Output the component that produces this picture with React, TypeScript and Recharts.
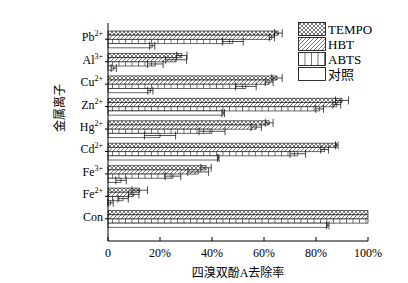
import { BarChart, Bar, XAxis, YAxis, ErrorBar } from "recharts";

const ions = ["Pb", "Al", "Cu", "Zn", "Hg", "Cd", "Fe", "Fe", "Con"];
const charges = ["2+", "3+", "2+", "2+", "2+", "2+", "3+", "2+", ""];

const tempo = [65.5, 28.4, 65, 90, 62, 88, 37.7, 12.2, 100];
const hbt = [63, 26.2, 62, 88, 57, 83.3, 34.7, 9.9, 100];
const abts = [48, 18.2, 53, 81.4, 40, 73, 25, 5.8, 100];
const control = [17, 2.2, 16.3, 44.3, 20, 42.4, 5, 1, 84.5];

const tempoErr = [1.5, 2, 2, 2.5, 1.5, 0.5, 2, 3, 0];
const hbtErr = [1, 4, 1.5, 1.5, 2, 1.5, 4, 2, 0];
const abtsErr = [4, 3, 4, 1.5, 5, 3, 3, 2, 0];
const controlErr = [1, 1, 1, 0.5, 6, 0.3, 2, 1, 0.5];

const xTicks = [0, 20, 40, 60, 80, 100];

const data = ions.map((ion, i) => ({
  name: ion + charges[i],
  tempo: tempo[i],
  hbt: hbt[i],
  abts: abts[i],
  control: control[i],
  tempoErr: tempoErr[i],
  hbtErr: hbtErr[i],
  abtsErr: abtsErr[i],
  controlErr: controlErr[i],
}));

const FONT = '"Liberation Serif", "Times New Roman", "Noto Sans CJK SC", serif';

function Patterns({ prefix }: { prefix: string }) {
  return (
    <defs>
      <pattern id={prefix + "tempo"} patternUnits="userSpaceOnUse" width="4" height="4">
        <rect width="4" height="4" fill="#fff" />
        <path d="M0,0 L4,4 M4,0 L0,4" stroke="#222" strokeWidth="0.6" />
      </pattern>
      <pattern id={prefix + "hbt"} patternUnits="userSpaceOnUse" width="4" height="4">
        <rect width="4" height="4" fill="#fff" />
        <path d="M-1,1 L1,-1 M0,4 L4,0 M3,5 L5,3" stroke="#222" strokeWidth="0.6" />
      </pattern>
      <pattern id={prefix + "abts"} patternUnits="userSpaceOnUse" width="6.5" height="6">
        <rect width="6.5" height="6" fill="#fff" />
        <line x1="0.5" y1="0" x2="0.5" y2="6" stroke="#333" strokeWidth="0.7" />
      </pattern>
    </defs>
  );
}

const YTick = ({ x, y, payload }: any) => {
  const i = payload.index;
  return (
    <text x={x} y={y} dy={2} textAnchor="end" fontSize={12} fontFamily={FONT} fill="#000">
      {ions[i]}
      {charges[i] && (
        <tspan dy={-5} fontSize={8}>
          {charges[i]}
        </tspan>
      )}
    </text>
  );
};

const XTick = ({ x, y, payload }: any) => (
  <g>
    <line x1={x} y1={y} x2={x} y2={y - 4} stroke="#000" strokeWidth={1} />
    <text x={x} y={y + 16} textAnchor="middle" fontSize={12} fontFamily={FONT} fill="#000">
      {payload.value === 0 ? "0" : payload.value + "%"}
    </text>
  </g>
);

const legendItems = [
  { label: "TEMPO", fill: "url(#lgtempo)" },
  { label: "HBT", fill: "url(#lghbt)" },
  { label: "ABTS", fill: "url(#lgabts)" },
  { label: "对照", fill: "#fff" },
];

const LegendBox = () => (
  <svg width={90} height={62} style={{ position: "absolute", left: 290, top: 14 }}>
    <Patterns prefix="lg" />
    {legendItems.map((it, i) => (
      <g key={it.label}>
        <rect x={0.5} y={0.5 + i * 15} width={27} height={13} fill={it.fill} stroke="#000" strokeWidth={0.8} />
        <text x={30} y={12 + i * 15} fontSize={13} fontFamily={FONT} fill="#000">
          {it.label}
        </text>
      </g>
    ))}
  </svg>
);

export default function App() {
  return (
    <div style={{ width: 400, height: 275, position: "relative", fontFamily: FONT }}>
      <BarChart
        width={400}
        height={275}
        data={data}
        layout="vertical"
        barSize={4.2}
        barGap={0}
        margin={{ top: 15, right: 40, bottom: 6, left: 40 }}
      >
        <Patterns prefix="p" />
        <XAxis
          type="number"
          domain={[0, 100]}
          ticks={xTicks}
          tick={<XTick />}
          tickLine={false}
          tickSize={0}
          tickMargin={0}
          axisLine={{ stroke: "#000", strokeWidth: 1 }}
          height={36}
          label={{
            value: "四溴双酚A去除率",
            position: "insideBottom",
            offset: 0,
            fontSize: 12,
            fill: "#000",
            fontFamily: FONT,
          }}
        />
        <YAxis
          type="category"
          dataKey="name"
          width={60}
          tick={<YTick />}
          tickSize={3}
          tickMargin={2}
          tickLine={{ stroke: "#000" }}
          axisLine={{ stroke: "#000", strokeWidth: 1 }}
          padding={{ top: 5, bottom: 11 }}
          interval={0}
          label={{
            value: "金属离子",
            angle: -90,
            position: "insideLeft",
            offset: 12,
            fontSize: 12,
            fill: "#000",
            fontFamily: FONT,
          }}
        />
        <Bar dataKey="tempo" fill="url(#ptempo)" stroke="#000" strokeWidth={0.6} isAnimationActive={false}>
          <ErrorBar dataKey="tempoErr" direction="x" width={4} stroke="#000" strokeWidth={0.7} />
        </Bar>
        <Bar dataKey="hbt" fill="url(#phbt)" stroke="#000" strokeWidth={0.6} isAnimationActive={false}>
          <ErrorBar dataKey="hbtErr" direction="x" width={4} stroke="#000" strokeWidth={0.7} />
        </Bar>
        <Bar dataKey="abts" fill="url(#pabts)" stroke="#000" strokeWidth={0.6} isAnimationActive={false}>
          <ErrorBar dataKey="abtsErr" direction="x" width={4} stroke="#000" strokeWidth={0.7} />
        </Bar>
        <Bar dataKey="control" fill="#fff" stroke="#000" strokeWidth={0.6} isAnimationActive={false}>
          <ErrorBar dataKey="controlErr" direction="x" width={4} stroke="#000" strokeWidth={0.7} />
        </Bar>
      </BarChart>
      <LegendBox />
    </div>
  );
}
